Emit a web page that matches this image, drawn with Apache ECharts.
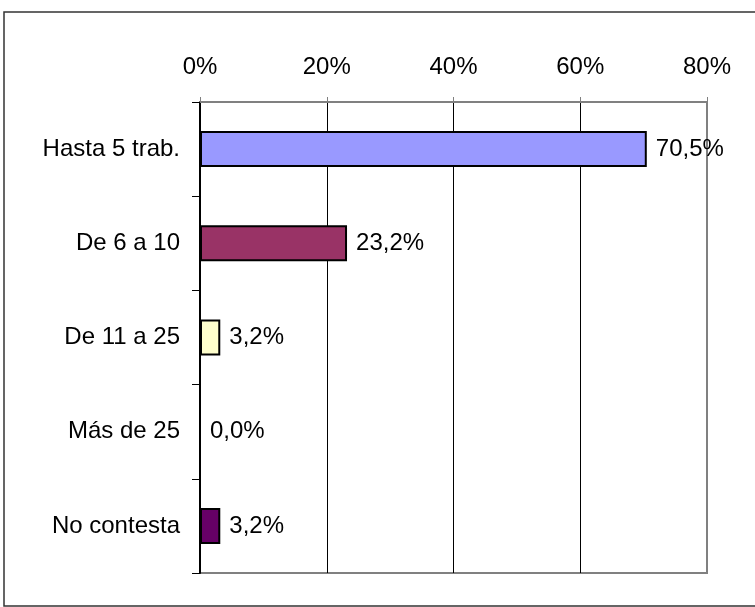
<!DOCTYPE html>
<html>
<head>
<meta charset="utf-8">
<script src="https://cdn.jsdelivr.net/npm/echarts@6/dist/echarts.min.js"></script>
<style>
  html, body { margin: 0; padding: 0; background: #fff; }
  #main { width: 755px; height: 607px; }
</style>
</head>
<body>
<div id="main"></div>
<script>
// datos
var categorias = ['Hasta 5 trab.', 'De 6 a 10', 'De 11 a 25', 'Más de 25', 'No contesta'];
var valores = [70.5, 23.2, 3.2, 0.0, 3.2];
var colores = ['#9999FF', '#993366', '#FFFFCC', '#CCFFFF', '#660066'];
var ticksX = [0, 20, 40, 60, 80];

var fmt = function (v) {
    return v.toFixed(1).replace('.', ',') + '%';
};

var myChart = echarts.init(document.getElementById('main'));

var option = {
    backgroundColor: '#fff',
    animation: false,
    textStyle: { fontFamily: 'Liberation Sans, Arial, sans-serif' },
    graphic: [{
        type: 'rect',
        shape: { x: 4, y: 12, width: 770, height: 594 },
        style: { fill: 'none', stroke: '#333', lineWidth: 1.5 },
        silent: true
    }],
    grid: {
        left: 200,
        right: 48,
        top: 102,
        bottom: 34,
        show: true,
        borderColor: '#808080',
        borderWidth: 2
    },
    xAxis: {
        type: 'value',
        position: 'top',
        min: ticksX[0],
        max: ticksX[ticksX.length - 1],
        interval: 20,
        axisLine: { show: true, lineStyle: { color: '#808080', width: 2 } },
        axisTick: { show: true, inside: false, length: 5, lineStyle: { color: '#808080', width: 1 } },
        axisLabel: {
            color: '#000',
            fontSize: 24,
            margin: 23,
            formatter: function (v) { return v + '%'; }
        },
        splitLine: {
            show: true,
            lineStyle: { color: ['#000', '#000', '#000', '#000', '#808080'], width: 1 }
        }
    },
    yAxis: {
        type: 'category',
        inverse: true,
        data: categorias,
        axisLine: { show: true, lineStyle: { color: '#000', width: 2 } },
        axisTick: { show: true, inside: false, length: 8, lineStyle: { color: '#000', width: 1 } },
        axisLabel: { color: '#000', fontSize: 24, margin: 20 },
        splitLine: { show: false }
    },
    series: [{
        type: 'bar',
        barWidth: 36,
        data: valores.map(function (v, i) {
            return {
                value: v,
                itemStyle: { color: colores[i], borderColor: '#000', borderWidth: 2 }
            };
        }),
        label: {
            show: true,
            position: 'right',
            distance: 9,
            color: '#000',
            fontSize: 24,
            formatter: function (p) { return fmt(p.value); }
        }
    }]
};

myChart.setOption(option);
</script>
</body>
</html>
